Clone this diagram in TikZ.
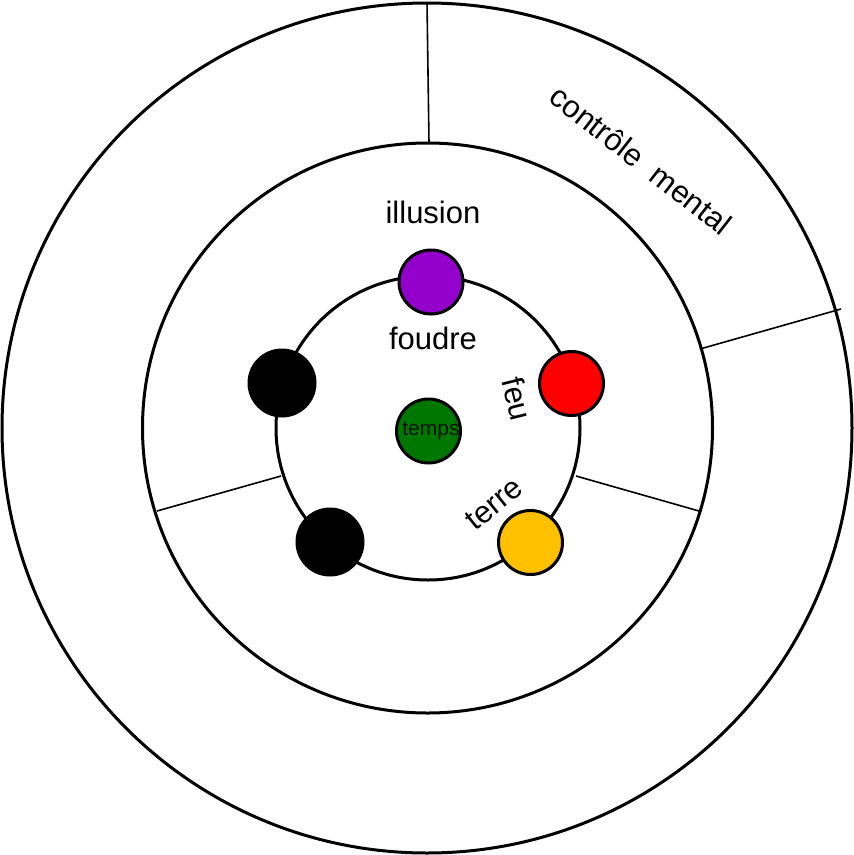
\documentclass[tikz,border=0pt]{standalone}
\usepackage{fontspec}
\setmainfont{Liberation Sans}
\definecolor{cpurple}{RGB}{148,0,204}
\definecolor{cred}{RGB}{255,0,0}
\definecolor{cyellow}{RGB}{255,192,0}
\definecolor{cgreen}{RGB}{0,120,0}
\begin{document}
\begin{tikzpicture}[x=1pt,y=-1pt,
  ring/.style={draw=black,line width=3pt},
  spoke/.style={draw=black,line width=1.6pt},
  dot/.style={circle,draw=black,line width=3pt,minimum size=64pt,inner sep=0pt},
  lbl/.style={font=\fontsize{31}{31}\selectfont,inner sep=0pt}]
\useasboundingbox (0,0) rectangle (854,855);
\fill[white] (0,0) rectangle (854,855);
% rings
\draw[ring] (427,428) circle (425);
\draw[ring] (427.5,428) circle (285);
\draw[ring] (428,428) circle (152);
% spokes
\coordinate (t1) at (427,2);
\coordinate (t2) at (429,143);
\coordinate (r1) at (700,349);
\coordinate (r2) at (841,309);
\coordinate (l1) at (157,511);
\coordinate (l2) at (281,476);
\coordinate (b1) at (576,476);
\coordinate (b2) at (699,511);
\draw[spoke] (t1) -- (t2);
\draw[spoke] (r1) -- (r2);
\draw[spoke] (l1) -- (l2);
\draw[spoke] (b1) -- (b2);
% dots
\node[dot,fill=cpurple] (illusionDot) at (431,282) {};
\node[dot,fill=cred] (feuDot) at (571.5,383.5) {};
\node[dot,fill=cyellow] (terreDot) at (530.5,542.5) {};
\node[dot,fill=black,minimum size=66pt] (blackA) at (282,383) {};
\node[dot,fill=black,minimum size=66pt] (blackB) at (330,542) {};
\node[dot,fill=cgreen] (tempsDot) at (428.5,431) {};
\node[font=\fontsize{21}{21}\selectfont,inner sep=0pt,text=black!85!cgreen] (temps) at (431,431) {temps};
% labels
\node[lbl] (illusion) at (433,212) {illusion};
\node[lbl] (foudre) at (433,338) {foudre};
\node[lbl,rotate=-76] (feu) at (517,399) {feu};
\node[lbl,rotate=39] (terre) at (494,504) {terre};
\node[lbl,rotate=-38] (controle) at (641,160) {contrôle\ \ mental};
\end{tikzpicture}
\end{document}
